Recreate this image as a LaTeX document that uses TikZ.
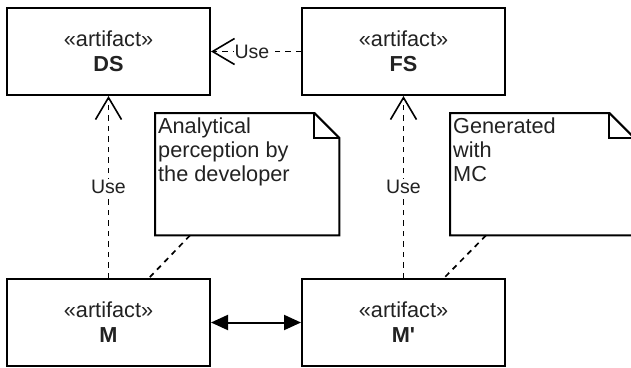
\documentclass[tikz,border=0pt]{standalone}
\usepackage{fontspec}
\setmainfont{Liberation Sans}
\usetikzlibrary{arrows.meta}
\definecolor{inkc}{HTML}{222222}
% straight apostrophe, set as a glyph so no quote mapping turns it curly
\newcommand{\straightquote}{\XeTeXglyph\XeTeXcharglyph"27\relax}
\tikzset{
  artbox/.style={draw=black, line width=2pt, fill=white, minimum width=203pt,
    minimum height=87pt, inner sep=0pt, align=center, text=inkc,
    font=\fontsize{21.7}{25}\selectfont},
  notebox/.style={minimum width=184pt, minimum height=122pt, inner sep=0pt, anchor=north west},
  notetext/.style={anchor=north west, inner sep=0pt, align=left, text=inkc,
    font=\fontsize{21.7}{24}\selectfont},
  noteline/.style={draw=black, line width=2pt, line join=miter},
  usedep/.style={line width=1.7pt, dash pattern=on 5.5pt off 5pt,
    -{Straight Barb[length=22pt, width=26pt, line width=1.6pt]}},
  uselabel/.style={fill=white, inner sep=1pt, text=inkc, font=\fontsize{19.5}{22}\selectfont},
  anchorline/.style={line width=1.7pt, dash pattern=on 5.5pt off 5pt},
  assoc/.style={line width=2pt, {Triangle[length=17pt, width=15pt]}-{Triangle[length=17pt, width=15pt]}}
}
\begin{document}
\begin{tikzpicture}[x=1pt, y=-1pt]
\useasboundingbox (0,0) rectangle (631,367);
\clip (0,0) rectangle (631,367);

% artifacts
\node[artbox] (DS) at (108.5,51.5) {«artifact»\\\textbf{DS}};
\node[artbox] (FS) at (403.5,51.5) {«artifact»\\\textbf{FS}};
\node[artbox] (M)  at (108.5,322.5) {«artifact»\\\textbf{M}};
\node[artbox] (Mp) at (403.5,322.5) {«artifact»\\\textbf{M\straightquote}};

% notes
\node[notebox] (n1) at (155,113) {};
\node[notebox] (n2) at (450,113) {};
\foreach \n in {n1,n2}{
  \draw[noteline, fill=white] (\n.north west) -- ([xshift=-25pt]\n.north east)
    -- ([yshift=-25pt]\n.north east) -- (\n.south east) -- (\n.south west) -- cycle;
  \draw[noteline] ([xshift=-25pt]\n.north east) -- ([xshift=-25pt,yshift=-25pt]\n.north east)
    -- ([yshift=-25pt]\n.north east);
}
\node[notetext] (t1) at (158,118) {Analytical\\perception by\\the developer};
\node[notetext] (t2) at (453,118) {Generated\\with\\MC};

% note anchors
\draw[anchorline] ([xshift=35pt]n1.south west) -- ([xshift=143pt]M.north west);
\draw[anchorline] ([xshift=36pt]n2.south west) -- ([xshift=143pt]Mp.north west);

% usage dependencies
\draw[usedep] (M.north) -- node[uselabel] (u1) {Use} (DS.south);
\draw[usedep] (Mp.north) -- node[uselabel] (u2) {Use} (FS.south);
\draw[usedep] (FS.west) -- node[uselabel, xshift=-4pt] (u3) {Use} (DS.east);

% association between the models
\draw[assoc] (M.east) -- (Mp.west);
\end{tikzpicture}
\end{document}
